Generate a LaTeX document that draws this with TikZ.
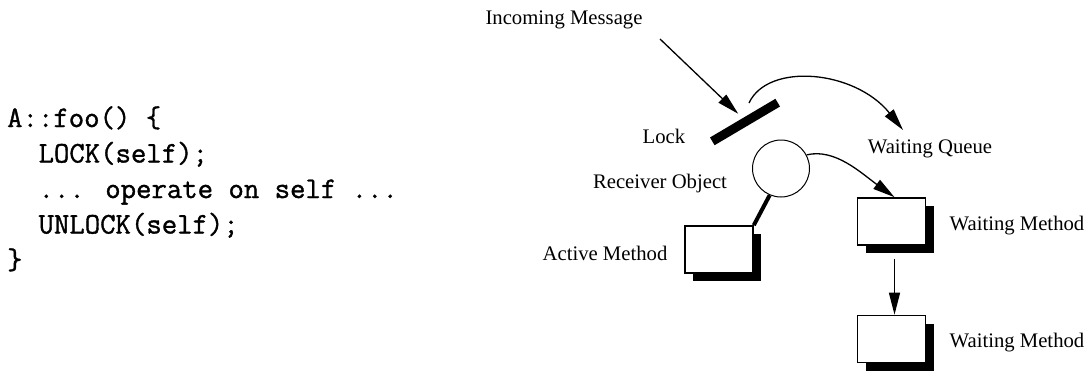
\documentclass[tikz,border=0pt]{standalone}
\usepackage{fontspec}
\setmainfont{Liberation Serif}
\newfontfamily\codefont{Latin Modern Mono}[FakeBold=1.2]
\usetikzlibrary{arrows.meta,shadows,calc}

\begin{document}
\begin{tikzpicture}[x=1pt,y=-1pt,
  lbltext/.style={font=\fontsize{20.7}{24}\selectfont, inner sep=0pt, anchor=base},
  codeline/.style={font=\codefont\fontsize{29.9}{35.5}\selectfont, inner sep=0pt, anchor=base west},
  arr/.style={line width=1.3pt, -{Triangle[length=22pt,width=11pt]}},
  methodbox/.style={draw, line width=1.6pt, fill=white, minimum width=68pt,
    minimum height=47pt, inner sep=0pt,
    drop shadow={shadow xshift=8pt, shadow yshift=-8pt, fill=black, opacity=1}},
  lockbar/.style={fill=black, minimum width=76pt, minimum height=9pt, inner sep=0pt},
  objcircle/.style={circle, draw, line width=1pt, minimum size=57pt, inner sep=0pt},
]
\useasboundingbox (0,0) rectangle (1088,370);

% code fragment
\node[codeline] (c1) at (7,127)    {A::foo() \{};
\node[codeline] (c2) at (38.4,162.5) {LOCK(self);};
\node[codeline] (c3) at (38.4,198)   {... operate on self ...};
\node[codeline] (c4) at (38.4,233.5) {UNLOCK(self);};
\node[codeline] (c5) at (7,269)    {\}};

% object with lock, active and waiting methods
\node[lockbar, rotate=30.6] (lock) at (745,122) {};
\node[objcircle] (recv) at (781,168.5) {};
\node[methodbox] (act) at (719,249.5) {};
\node[methodbox] (wm1) at (891.5,221.5) {};
\node[methodbox] (wm2) at (891.5,339) {};

% labels
\node[lbltext] (msg)     at (564,24)  {Incoming Message};
\node[lbltext] (locklbl) at (664,143) {Lock};
\node[lbltext] (recvlbl) at (660,188) {Receiver Object};
\node[lbltext] (wq)      at (930,153) {Waiting Queue};
\node[lbltext] (actlbl)  at (605,260) {Active Method};
\node[lbltext] (wm1lbl)  at (1017,230) {Waiting Method};
\node[lbltext] (wm2lbl)  at (1017,347) {Waiting Method};

% connectors
\coordinate (msgfrom) at (660,39);
\draw[arr, shorten >=6pt] (msgfrom) -- (lock.north);

\coordinate (qfrom) at (749,103);
\coordinate (qto) at (903,130);
\draw[arr] (qfrom) .. controls (768,62) and (855,70) .. (qto);

\draw[line width=4pt] (recv.247) -- (act.north east);
\draw[arr] (recv.28) .. controls (835,148) and (861,173) .. ($(wm1.north)+(3,0)$);
\draw[arr] ($(wm1.south)+(3,13)$) -- ($(wm2.north)+(3,0)$);
\end{tikzpicture}
\end{document}
